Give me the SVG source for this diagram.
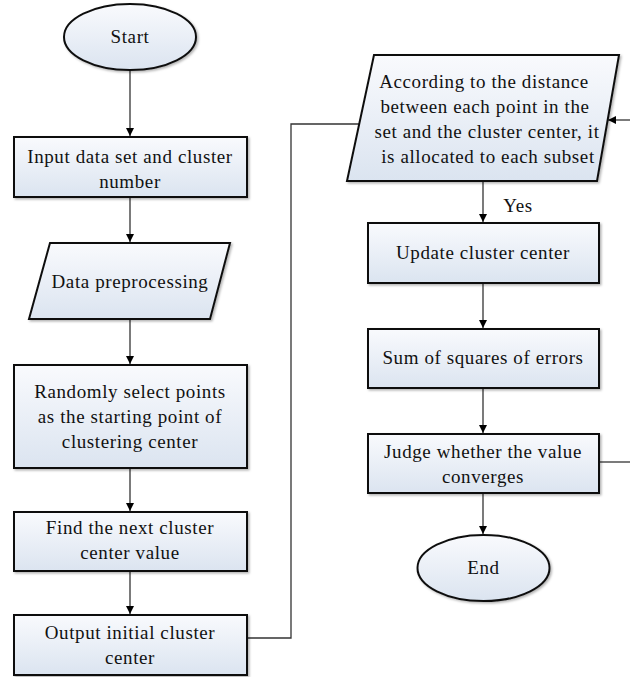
<svg xmlns="http://www.w3.org/2000/svg" width="630" height="677" viewBox="0 0 630 677">
  <defs>
    <linearGradient id="fillGrad" x1="0" y1="0" x2="0" y2="1">
      <stop offset="0" stop-color="#f9fafd"/>
      <stop offset="1" stop-color="#dbe4f0"/>
    </linearGradient>
    <filter id="shadow" x="-10%" y="-10%" width="125%" height="130%">
      <feDropShadow dx="1.5" dy="1.5" stdDeviation="1" flood-color="#000" flood-opacity="0.3"/>
    </filter>
    <marker id="arrow" viewBox="0 0 10 10" refX="10" refY="5" markerWidth="8" markerHeight="8" markerUnits="userSpaceOnUse" orient="auto">
      <path d="M0,0 L10,5 L0,10 z" fill="#000"/>
    </marker>
    <style>
      .shape { fill: url(#fillGrad); stroke: #111; stroke-width: 2; filter: url(#shadow); }
      .edge { fill: none; stroke: #333; stroke-width: 1.3; }
      text { font-family: 'Liberation Serif', serif; font-size: 19px; fill: #111; text-anchor: middle; letter-spacing: 0.6px; }
    </style>
  </defs>
  <rect width="630" height="677" fill="#fff"/>

  <g id="connectors">
    <path class="edge" d="M130,70 V136" marker-end="url(#arrow)"/>
    <path class="edge" d="M130,197 V242" marker-end="url(#arrow)"/>
    <path class="edge" d="M130,319 V364" marker-end="url(#arrow)"/>
    <path class="edge" d="M130,468 V511" marker-end="url(#arrow)"/>
    <path class="edge" d="M130,571 V614" marker-end="url(#arrow)"/>
    <path class="edge" d="M247,638 H291 V124 H359"/>
    <path class="edge" d="M630,120 H608" marker-end="url(#arrow)"/>
    <path class="edge" d="M483,181 V222" marker-end="url(#arrow)"/>
    <path class="edge" d="M483,283 V328" marker-end="url(#arrow)"/>
    <path class="edge" d="M483,388 V433" marker-end="url(#arrow)"/>
    <path class="edge" d="M483,493 V534" marker-end="url(#arrow)"/>
    <path class="edge" d="M599,462 H630"/>
    <text x="518" y="212">Yes</text>
  </g>

  <g id="start">
    <ellipse class="shape" cx="130" cy="37" rx="66" ry="33"/>
    <text x="130" y="43">Start</text>
  </g>

  <g id="input">
    <rect class="shape" x="14" y="137" width="233" height="60"/>
    <text x="130" y="163">Input data set and cluster</text>
    <text x="130" y="188">number</text>
  </g>

  <g id="preprocess">
    <polygon class="shape" points="50,243 230,243 210,319 29,319"/>
    <text x="130" y="288">Data preprocessing</text>
  </g>

  <g id="random-select">
    <rect class="shape" x="14" y="365" width="233" height="103"/>
    <text x="130" y="398">Randomly select points</text>
    <text x="130" y="423">as the starting point of</text>
    <text x="130" y="448">clustering center</text>
  </g>

  <g id="next-center">
    <rect class="shape" x="14" y="512" width="233" height="59"/>
    <text x="130" y="534">Find the next cluster</text>
    <text x="130" y="559">center value</text>
  </g>

  <g id="output-initial">
    <rect class="shape" x="14" y="615" width="233" height="60"/>
    <text x="130" y="639">Output initial cluster</text>
    <text x="130" y="664">center</text>
  </g>

  <g id="allocate">
    <polygon class="shape" points="374,55 619,55 597,181 347,181"/>
    <text x="484" y="88">According to the distance</text>
    <text x="485" y="113">between each point in the</text>
    <text x="487" y="138">set and the cluster center, it</text>
    <text x="488" y="163">is allocated to each subset</text>
  </g>

  <g id="update">
    <rect class="shape" x="368" y="223" width="231" height="60"/>
    <text x="483" y="259">Update cluster center</text>
  </g>

  <g id="sse">
    <rect class="shape" x="368" y="329" width="231" height="59"/>
    <text x="483" y="364">Sum of squares of errors</text>
  </g>

  <g id="judge">
    <rect class="shape" x="368" y="434" width="231" height="59"/>
    <text x="483" y="458">Judge whether the value</text>
    <text x="483" y="483">converges</text>
  </g>

  <g id="end">
    <ellipse class="shape" cx="483.5" cy="568" rx="66" ry="33"/>
    <text x="483.5" y="574">End</text>
  </g>
</svg>
